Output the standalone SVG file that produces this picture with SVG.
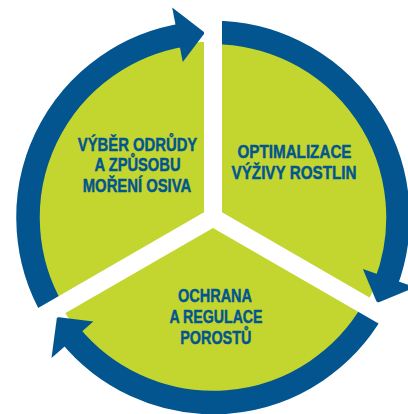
<svg xmlns="http://www.w3.org/2000/svg" xmlns:xlink="http://www.w3.org/1999/xlink" width="408" height="414" viewBox="0 0 408 414">
  <style>
    .sector { fill: #c2d62f; }
    .ring { fill: none; stroke: #03558f; stroke-width: 23.5; }
    .head { fill: #03558f; }
    .label { font-family: "Liberation Sans", Arial, sans-serif; font-weight: bold; font-size: 18.5px; fill: #03558f; stroke: #03558f; stroke-width: 0.45; text-anchor: middle; }
  </style>
  <defs>
    <!-- Y-shaped white gap separating the three sectors and cutting the ring -->
    <mask id="gaps" maskUnits="userSpaceOnUse" x="0" y="0" width="408" height="414">
      <rect x="0" y="0" width="408" height="414" fill="#fff"/>
      <polygon fill="#000" points="204,-20 204,212.3 -21.2,342.3 -12.2,357.9 213,227.89 438.2,357.9 447.2,342.3 222,212.3 222,-20"/>
    </mask>
    <!-- one ring segment with its arrowhead; rotated for the other two -->
    <g id="cycle-arrow">
      <path class="ring" d="M52.79 310 A185 185 0 0 1 184.06 34.78"/>
      <polygon class="head" points="204.93,32.68 172.17,7.43 182.76,61.91"/>
    </g>
  </defs>

  <g mask="url(#gaps)">
    <g id="node-vyber">
      <path class="sector" d="M213 217.5 L60.58 305.5 A176 176 0 0 1 213 41.5 Z"/>
    </g>
    <g id="node-optimalizace">
      <path class="sector" d="M213 217.5 L213 41.5 A176 176 0 0 1 365.42 305.5 Z"/>
    </g>
    <g id="node-ochrana">
      <path class="sector" d="M213 217.5 L365.42 305.5 A176 176 0 0 1 60.58 305.5 Z"/>
    </g>
    <g id="connectors">
      <use xlink:href="#cycle-arrow"/>
      <use xlink:href="#cycle-arrow" transform="rotate(120 213 217.5)"/>
      <use xlink:href="#cycle-arrow" transform="rotate(240 213 217.5)"/>
    </g>
  </g>

  <g id="label-vyber">
    <text class="label" x="137.5" y="150.5" textLength="119.5" lengthAdjust="spacingAndGlyphs">VÝBĚR ODRŮDY</text>
    <text class="label" x="137.5" y="171" textLength="86" lengthAdjust="spacingAndGlyphs">A ZPŮSOBU</text>
    <text class="label" x="137" y="191.5" textLength="108.5" lengthAdjust="spacingAndGlyphs">MOŘENÍ OSIVA</text>
  </g>
  <g id="label-optimalizace">
    <text class="label" x="294.5" y="158.3" textLength="114" lengthAdjust="spacingAndGlyphs">OPTIMALIZACE</text>
    <text class="label" x="294" y="179.3" textLength="125" lengthAdjust="spacingAndGlyphs">VÝŽIVY ROSTLIN</text>
  </g>
  <g id="label-ochrana">
    <text class="label" x="215" y="301.7" textLength="74" lengthAdjust="spacingAndGlyphs">OCHRANA</text>
    <text class="label" x="216" y="322.7" textLength="93" lengthAdjust="spacingAndGlyphs">A REGULACE</text>
    <text class="label" x="215.8" y="344.3" textLength="71" lengthAdjust="spacingAndGlyphs">POROSTŮ</text>
  </g>
</svg>
